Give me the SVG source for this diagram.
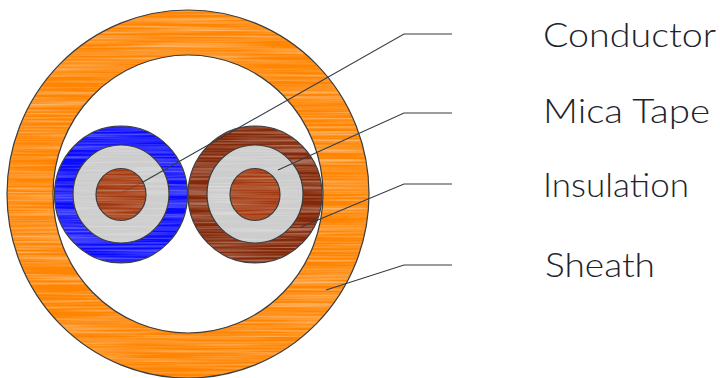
<svg xmlns="http://www.w3.org/2000/svg" width="720" height="378" viewBox="0 0 720 378">
<style>
.o{stroke:#3c3c3c;stroke-width:1.2;fill:none}
.l{stroke:#333c44;stroke-width:1.1;fill:none}
.t{font-family:"Lato","Liberation Sans",sans-serif;font-size:34px;fill:#1c242c;font-weight:300}
.sheath{fill:#ff8400;filter:url(#tex)}
.blue{fill:#0a0aff;filter:url(#tex)}
.brown{fill:#842808;filter:url(#tex)}
.mica{fill:#cdcdcd;filter:url(#tex2)}
.cond{fill:#a4380e;filter:url(#tex)}
</style>
<defs>
<filter id="tex" x="0" y="0" width="1" height="1" color-interpolation-filters="sRGB">
<feTurbulence type="fractalNoise" baseFrequency="0.008 0.5" numOctaves="2" seed="4" result="n"/>
<feColorMatrix in="n" type="matrix" values="0 0 0 0 1  0 0 0 0 1  0 0 0 0 1  0.8 0 0 0 -0.28" result="w"/>
<feComposite in="w" in2="SourceGraphic" operator="in" result="c"/>
<feMerge><feMergeNode in="SourceGraphic"/><feMergeNode in="c"/></feMerge>
</filter>
<filter id="tex2" x="0" y="0" width="1" height="1" color-interpolation-filters="sRGB">
<feTurbulence type="fractalNoise" baseFrequency="0.01 0.5" numOctaves="2" seed="9" result="n"/>
<feColorMatrix in="n" type="matrix" values="0 0 0 0 1  0 0 0 0 1  0 0 0 0 1  0.7 0 0 0 -0.3" result="w"/>
<feComposite in="w" in2="SourceGraphic" operator="in" result="c"/>
<feMerge><feMergeNode in="SourceGraphic"/><feMergeNode in="c"/></feMerge>
</filter>
</defs>
<rect width="720" height="378" fill="#fff"/>
<g id="sheath">
<path class="sheath" fill-rule="evenodd" d="M7 194a181 184 0 1 0 362 0a181 184 0 1 0 -362 0ZM53 194a135 139 0 1 0 270 0a135 139 0 1 0 -270 0Z"/>
<ellipse class="o" cx="188" cy="194" rx="181" ry="184"/>
<ellipse class="o" cx="188" cy="194" rx="135" ry="139"/>
</g>
<g id="cable-blue">
<ellipse class="blue" cx="121" cy="194.500" rx="66.500" ry="68.500"/>
<ellipse class="o" cx="121" cy="194.500" rx="66.500" ry="68.500"/>
<ellipse class="mica" cx="121" cy="194" rx="48" ry="49"/>
<ellipse class="o" cx="121" cy="194" rx="48" ry="49"/>
<ellipse class="cond" cx="121" cy="194.500" rx="25" ry="26"/>
<ellipse class="o" cx="121" cy="194.500" rx="25" ry="26"/>
</g>
<g id="cable-brown">
<ellipse class="brown" cx="255" cy="194.500" rx="67" ry="68.500"/>
<ellipse class="o" cx="255" cy="194.500" rx="67" ry="68.500"/>
<ellipse class="mica" cx="255" cy="194" rx="48" ry="49"/>
<ellipse class="o" cx="255" cy="194" rx="48" ry="49"/>
<ellipse class="cond" cx="255" cy="194.500" rx="25" ry="26"/>
<ellipse class="o" cx="255" cy="194.500" rx="25" ry="26"/>
</g>
<g id="connectors">
<path class="l" d="M143 182L404 34H452"/>
<path class="l" d="M123 192L143 182" opacity=".35"/>
<path class="l" d="M278 170L404 113H452"/>
<path class="l" d="M301 227L404 184H452"/>
<path class="l" d="M326 290L404 265H452"/>
</g>
<g id="label-conductor"><text class="t" x="543" y="47" textLength="173" lengthAdjust="spacingAndGlyphs">Conductor</text></g>
<g id="label-mica"><text class="t" x="543" y="123" textLength="167" lengthAdjust="spacingAndGlyphs">Mica Tape</text></g>
<g id="label-insulation"><text class="t" x="543" y="197" textLength="146" lengthAdjust="spacingAndGlyphs">Insulation</text></g>
<g id="label-sheath"><text class="t" x="545" y="277" textLength="110" lengthAdjust="spacingAndGlyphs">Sheath</text></g>
</svg>
